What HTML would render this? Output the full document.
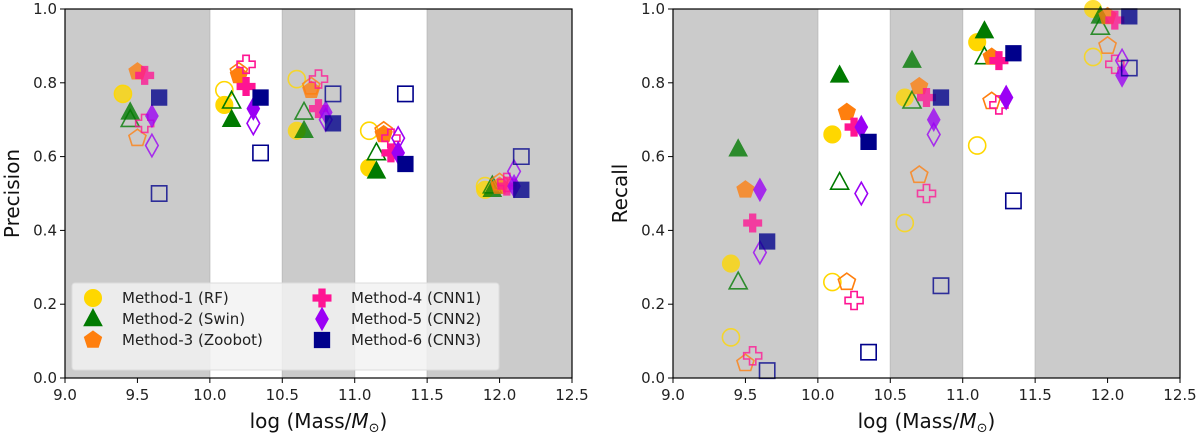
<!DOCTYPE html>
<html><head><meta charset="utf-8"><style>
html,body{margin:0;padding:0;background:#fff;}
svg{display:block;font-family:"DejaVu Sans","Liberation Sans",sans-serif;}
</style></head><body>
<svg id="fig" width="1200" height="434" viewBox="0 0 1200 434"></svg>
<script>
const methods = ["Method-1 (RF)","Method-2 (Swin)","Method-3 (Zoobot)","Method-4 (CNN1)","Method-5 (CNN2)","Method-6 (CNN3)"];
const binStarts = [9.4, 10.1, 10.6, 11.1, 11.9];
const precisionFilled = [
 [0.77,0.74,0.67,0.57,0.51],
 [0.72,0.70,0.67,0.56,0.51],
 [0.83,0.82,0.78,0.66,0.52],
 [0.82,0.79,0.73,0.61,0.52],
 [0.71,0.73,0.72,0.61,0.52],
 [0.76,0.76,0.69,0.58,0.51]];
const precisionOpen = [
 [0.77,0.78,0.81,0.67,0.52],
 [0.70,0.75,0.72,0.61,0.52],
 [0.65,0.83,0.79,0.67,0.53],
 [0.69,0.85,0.81,0.65,0.53],
 [0.63,0.69,0.70,0.65,0.56],
 [0.50,0.61,0.77,0.77,0.60]];
const recallFilled = [
 [0.31,0.66,0.76,0.91,1.00],
 [0.62,0.82,0.86,0.94,0.98],
 [0.51,0.72,0.79,0.87,0.98],
 [0.42,0.68,0.76,0.86,0.97],
 [0.51,0.68,0.70,0.76,0.82],
 [0.37,0.64,0.76,0.88,0.98]];
const recallOpen = [
 [0.11,0.26,0.42,0.63,0.87],
 [0.26,0.53,0.75,0.87,0.95],
 [0.04,0.26,0.55,0.75,0.90],
 [0.06,0.21,0.50,0.74,0.85],
 [0.34,0.50,0.66,0.76,0.86],
 [0.02,0.07,0.25,0.48,0.84]];
const xTicks = ["9.0","9.5","10.0","10.5","11.0","11.5","12.0","12.5"];
const yTicks = ["0.0","0.2","0.4","0.6","0.8","1.0"];
const grayBands = [[9.0,10.0],[10.5,11.0],[11.5,12.5]];

const colors=["#FFD700","#007A00","#FF7F0E","#FF1493","#9B00F5","#00008B"];
const shapes=["circle","triangle","pentagon","plus","diamond","square"];
const NS="http://www.w3.org/2000/svg";
const svg=document.getElementById('fig');
function mk(tag,attrs,parent){const e=document.createElementNS(NS,tag);for(const k in attrs)e.setAttribute(k,attrs[k]);(parent||svg).appendChild(e);return e;}

function shapePath(s,cx,cy,r){
  if(s==="circle") return null;
  if(s==="triangle") return `M${cx},${cy-r*1.1} L${cx+r*1.0},${cy+r*0.75} L${cx-r*1.0},${cy+r*0.75}Z`;
  if(s==="pentagon"){let p="";for(let i=0;i<5;i++){const a=-Math.PI/2+i*2*Math.PI/5;p+=(i?"L":"M")+(cx+r*Math.cos(a)).toFixed(1)+","+(cy+r*Math.sin(a)).toFixed(1);}return p+"Z";}
  if(s==="plus"){const a=r*0.35,b=r;return `M${cx-a},${cy-b}H${cx+a}V${cy-a}H${cx+b}V${cy+a}H${cx+a}V${cy+b}H${cx-a}V${cy+a}H${cx-b}V${cy-a}H${cx-a}Z`;}
  if(s==="diamond") return `M${cx},${cy-r*1.25}L${cx+r*0.7},${cy}L${cx},${cy+r*1.25}L${cx-r*0.7},${cy}Z`;
  if(s==="square") return `M${cx-r*0.85},${cy-r*0.85}h${r*1.7}v${r*1.7}h${-r*1.7}Z`;
}
function marker(g,m,cx,cy,filled,op,name){
  const r=9;let e;
  const st=filled?{fill:colors[m],stroke:colors[m],'stroke-width':1,opacity:op}:{fill:"none",stroke:colors[m],'stroke-width':1.6,opacity:op};
  if(shapes[m]==="circle") e=mk('circle',Object.assign({cx,cy,r:r*0.95},st),g);
  else e=mk('path',Object.assign({d:shapePath(shapes[m],cx,cy,r)},st),g);
  
  
  return e;
}

function panel(x0,x1,yTop,yBot,label,filledData,openData,pname,legend){
  const g=mk('g',{});
  
  
  const sx=v=>x0+(v-9)/3.5*(x1-x0);
  const sy=v=>yBot-v*(yBot-yTop);
  grayBands.forEach((b,i)=>{const r=mk('rect',{x:sx(b[0]),y:yTop,width:sx(b[1])-sx(b[0]),height:yBot-yTop,fill:"#cbcbcb",stroke:"#bdbdbd","stroke-width":1},g);
    
    });
  const inGray=x=>grayBands.some(b=>x>=b[0]&&x<=b[1]);
  for(let m=0;m<6;m++){
    for(let b=0;b<binStarts.length;b++){
      const xv=binStarts[b]+0.05*m;
      const op=inGray(xv)?0.78:1;
      marker(g,m,sx(xv),sy(openData[m][b]),false,op,'open-marker-m'+(m+1));
      marker(g,m,sx(xv),sy(filledData[m][b]),true,op,'filled-marker-m'+(m+1));
    }
  }
  const frame=mk('rect',{x:x0,y:yTop,width:x1-x0,height:yBot-yTop,fill:"none",stroke:"#000","stroke-width":1.2},g);
  
  
  xTicks.forEach(t=>{const x=sx(parseFloat(t));mk('line',{x1:x,x2:x,y1:yBot,y2:yBot+5,stroke:"#000"},g);
    const tx=mk('text',{x,y:yBot+22,'text-anchor':'middle','font-size':15,fill:"#222"},g);tx.textContent=t;
    
    });
  yTicks.forEach(t=>{const y=sy(parseFloat(t));mk('line',{x1:x0-5,x2:x0,y1:y,y2:y,stroke:"#000"},g);
    const tx=mk('text',{x:x0-8,y:y+5,'text-anchor':'end','font-size':15,fill:"#222"},g);tx.textContent=t;
    
    });
  const xl=mk('text',{x:(x0+x1)/2,y:yBot+50,'text-anchor':'middle','font-size':20,fill:"#111"},g);
  xl.innerHTML='log (Mass/<tspan font-style="italic">M</tspan><tspan font-size="13" dy="4">⊙</tspan><tspan dy="-4">)</tspan>';
  
  
  const yl=mk('text',{x:0,y:0,'text-anchor':'middle','font-size':20,fill:"#111",transform:`translate(${x0-46},${(yTop+yBot)/2}) rotate(-90)`},g);
  yl.textContent=label;
  
  
  if(legend){
    const lg=mk('g',{},g);
    
    
    mk('rect',{x:72,y:283,width:427,height:87,rx:3,fill:"#f2f2f2","fill-opacity":0.85,stroke:"#dcdcdc"},lg);
    methods.forEach((name,i)=>{
      const col=Math.floor(i/3),row=i%3;
      const mx=col?322:93, ty=298+row*21;
      const e=lg.appendChild(document.createElementNS(NS,'g'));
      
      
      marker(e,i,mx,ty,true,1,'legend-marker');
      const t=mk('text',{x:mx+29,y:ty+5,'font-size':15,fill:"#222"},e);t.textContent=name;
    });
  }
}
panel(65,572,9,378,"Precision",precisionFilled,precisionOpen,'precision-panel',true);
panel(673,1180,9,378,"Recall",recallFilled,recallOpen,'recall-panel',false);
</script>
</body></html>
